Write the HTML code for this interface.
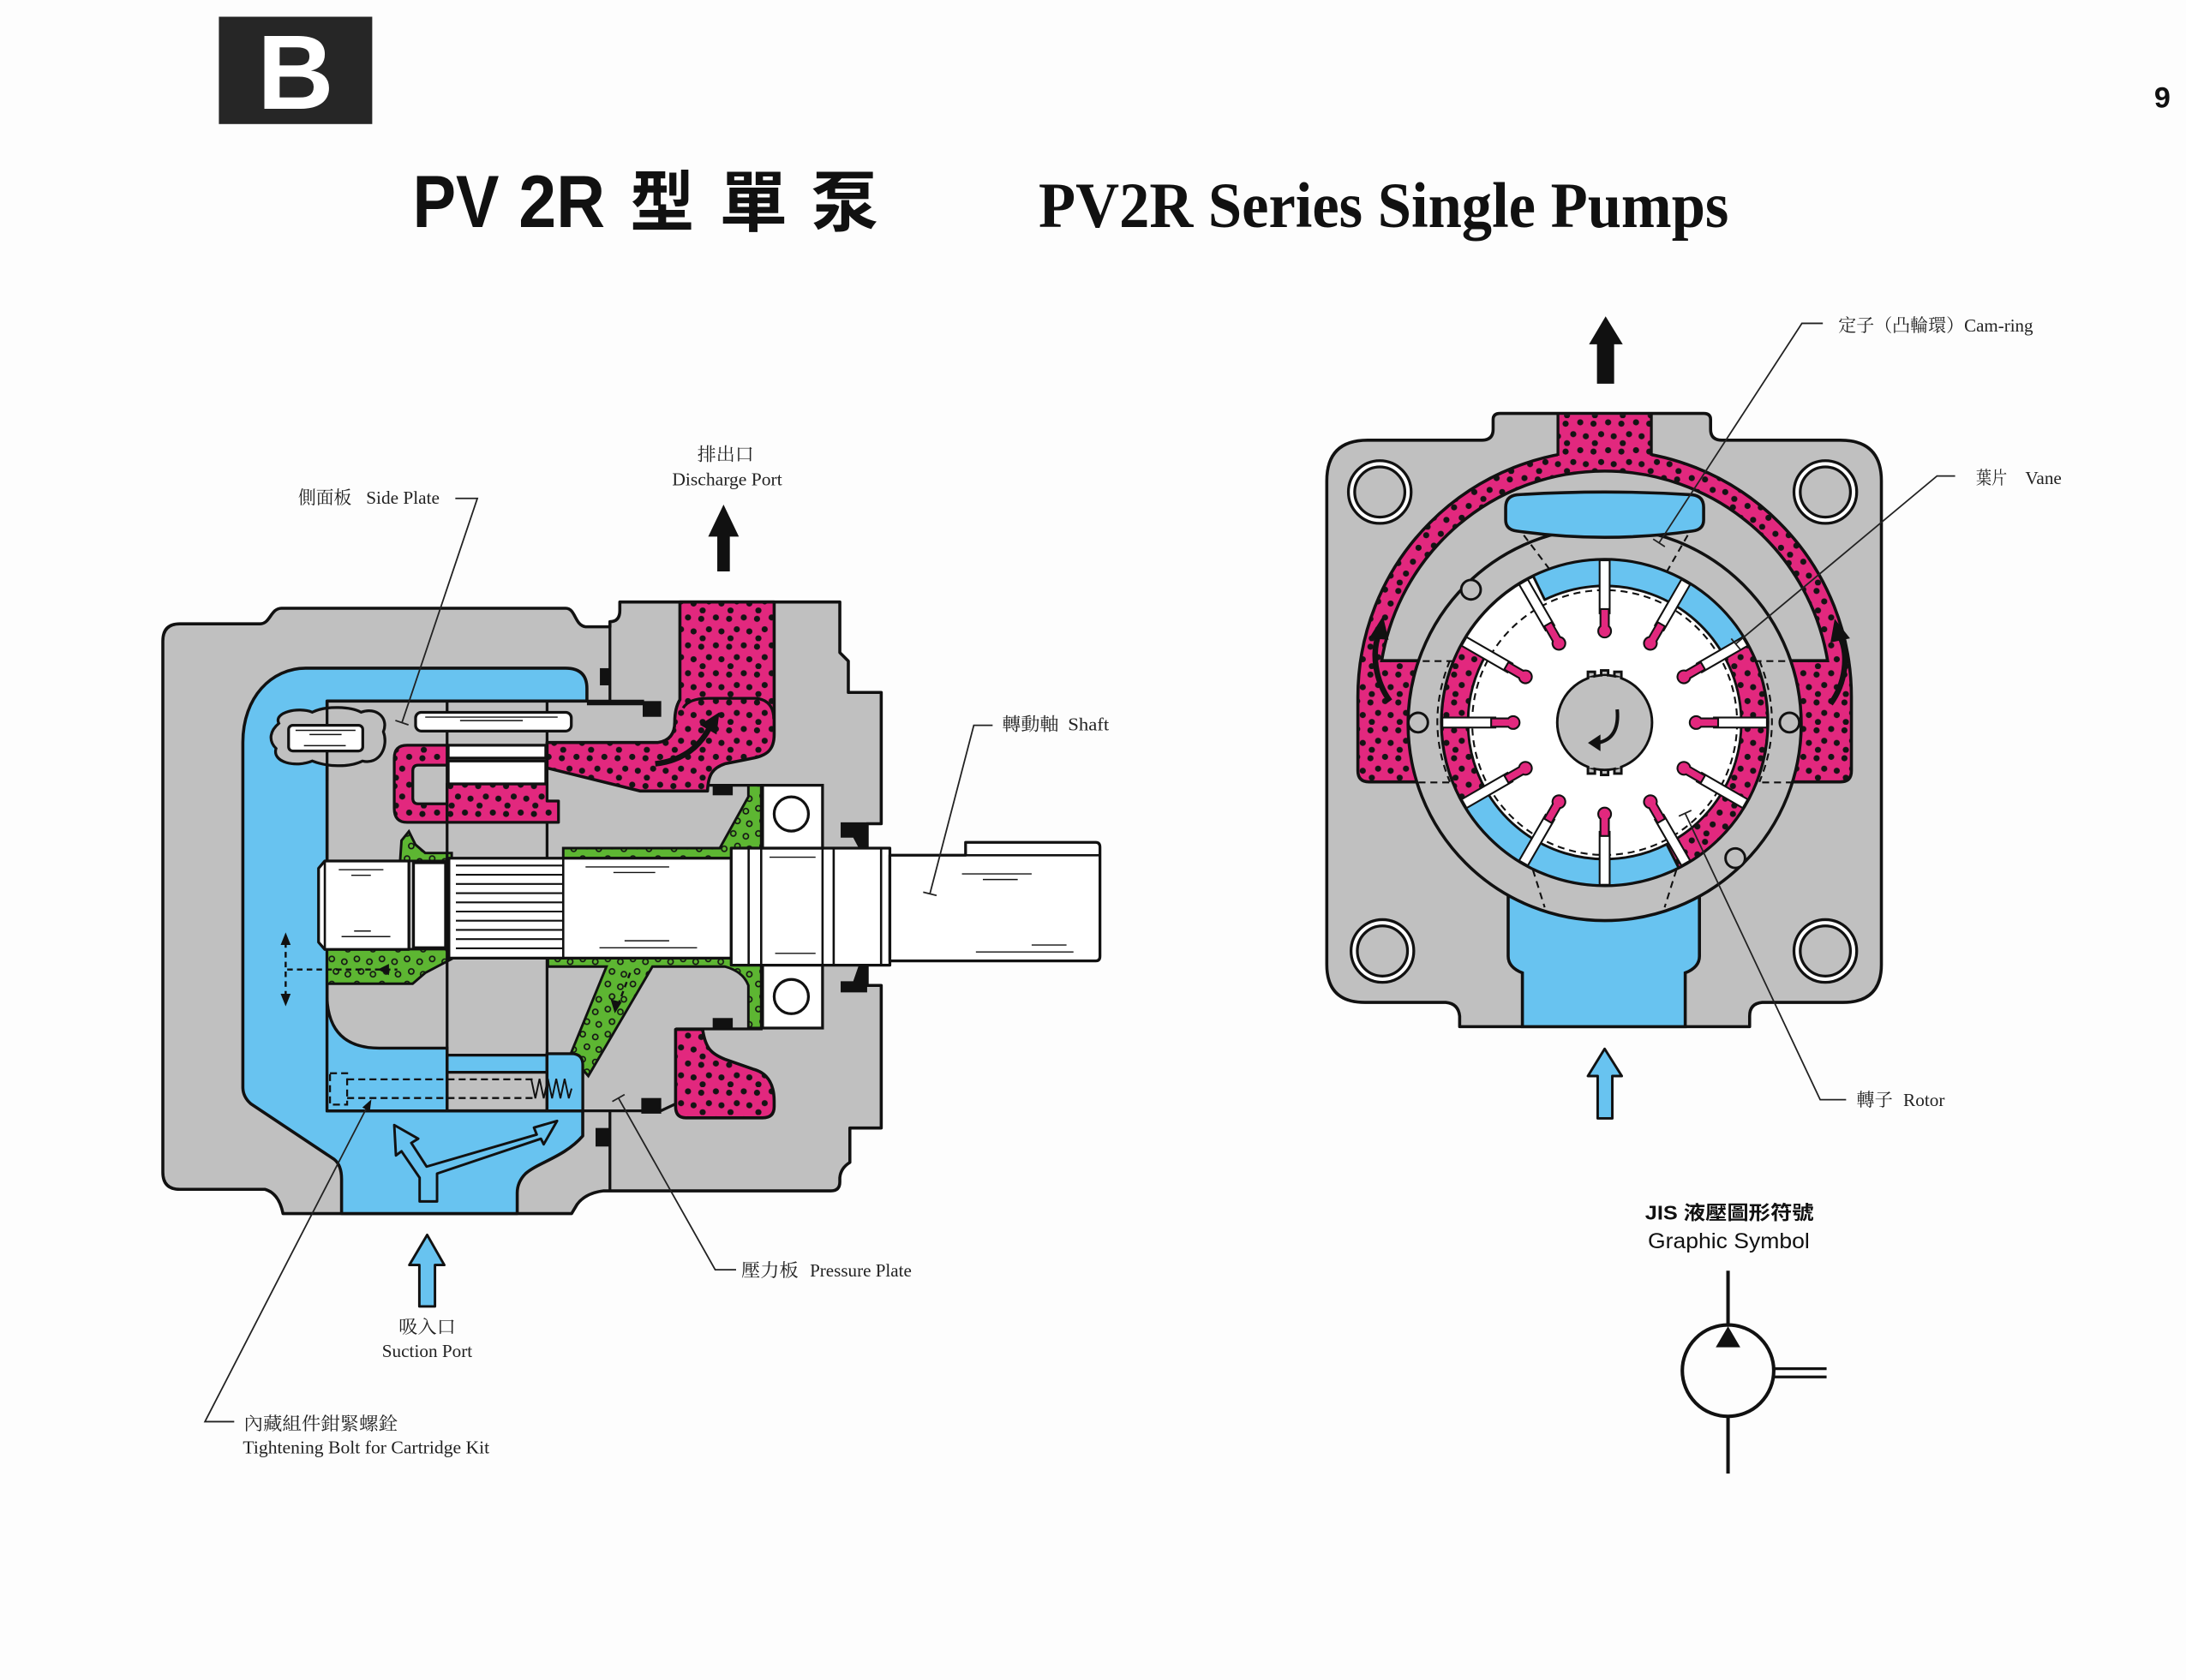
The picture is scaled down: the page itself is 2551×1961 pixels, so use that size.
<!DOCTYPE html>
<html><head><meta charset="utf-8"><style>
html,body{margin:0;padding:0;background:#fdfdfd;}
svg{display:block;}
.lb{font-family:"Liberation Serif","Noto Serif CJK SC",serif;font-size:13px;fill:#222;}
.ln{fill:none;stroke:#222;stroke-width:1.1;}
</style></head><body>
<svg xmlns="http://www.w3.org/2000/svg" xmlns:xlink="http://www.w3.org/1999/xlink" width="2551" height="1961" viewBox="0 0 1568 1205.35" preserveAspectRatio="none">
<defs>
<pattern id="pk" width="20" height="20" patternUnits="userSpaceOnUse">
<rect width="20" height="20" fill="#e2287e"/>
<g fill="#141414"><circle cx="3" cy="4" r="2.2"/><circle cx="13.5" cy="3" r="2.2"/><circle cx="8.5" cy="11.5" r="2.2"/><circle cx="17.5" cy="13" r="2.2"/><circle cx="4" cy="18" r="2.2"/></g>
</pattern>
<pattern id="gn" width="18" height="18" patternUnits="userSpaceOnUse">
<rect width="18" height="18" fill="#5db632"/>
<g fill="none" stroke="#141414" stroke-width="1"><circle cx="4" cy="4" r="1.9"/><circle cx="13" cy="6" r="1.9"/><circle cx="7" cy="13" r="1.9"/><circle cx="15.5" cy="15" r="1.9"/></g>
</pattern>
<g id="vane">
<rect x="1147.4" y="402" width="7.2" height="38" fill="#fff" stroke="#111" stroke-width="1.3"/>
<path d="M1148,437 L1148,449.3 A4.6 4.6 0 1 0 1154,449.3 L1154,437 Z" fill="#e2287e" stroke="#111" stroke-width="1.3"/>
</g>
</defs>

<rect x="0" y="0" width="1568" height="1205.35" fill="#fdfdfd"/>

<!-- Header -->
<rect x="157" y="12" width="110" height="77" fill="#262626"/>
<text x="212" y="78" text-anchor="middle" font-family="Liberation Sans, sans-serif" font-weight="bold" font-size="76" fill="#fff">B</text>
<text x="1551" y="77" text-anchor="middle" font-family="Liberation Sans, sans-serif" font-weight="bold" font-size="21" fill="#111">9</text>

<g font-family="Liberation Sans, sans-serif" font-size="53" font-weight="bold" fill="#111">
<text x="296" y="163" textLength="62" lengthAdjust="spacingAndGlyphs">PV</text>
<text x="372" y="163" textLength="62" lengthAdjust="spacingAndGlyphs">2R</text>
</g>
<g font-family="Noto Sans CJK TC, Noto Sans CJK SC, sans-serif" font-size="48" font-weight="bold" fill="#111">
<text x="452" y="162" textLength="46" lengthAdjust="spacingAndGlyphs">型</text>
<text x="516" y="162" textLength="49" lengthAdjust="spacingAndGlyphs">單</text>
<text x="582" y="162" textLength="48" lengthAdjust="spacingAndGlyphs">泵</text>
</g>
<text x="745" y="163" font-family="Liberation Serif, serif" font-weight="bold" font-size="46" fill="#111" textLength="495" lengthAdjust="spacingAndGlyphs">PV2R Series Single Pumps</text>

<!-- ================= LEFT DIAGRAM ================= -->
<g stroke="#111" stroke-width="2.2" stroke-linejoin="round">
<path d="M116.8,460 Q116.8,447.6 129,447.6 L186.5,447.6 C194,447.6 194,436.4 202,436.4 L405.7,436.4 C413,436.4 412,448.6 420,449.7 L437.5,449.7 L437.5,446 Q444.6,446 444.6,438 L444.6,431.9 L602.4,431.9 L602.4,468.2 L608.5,474.3 L608.5,496.8 L632.1,496.8 L632.1,591 L622,591 L622,707 L632.1,707 L632.1,809.3 L609.6,809.3 L609.6,834 Q603,838 602.4,845 L602.4,848 Q602.4,854.4 596,854.4 L433,854.4 Q420,856 414,864 L410,870.7 L203,870.7 Q200,856 190,853.3 L129,853.3 Q116.8,853.3 116.8,841 Z" fill="#c0c0c0"/>
<path d="M219.2,479.4 L405.7,479.4 Q421,479.4 421,494 L421,503 L234.6,503 L234.6,797 L418,797 L418,815 C405,830 386,834 377,842 Q371,848 371,856 L371,870.7 L245,870.7 L245,846 Q245,836 239.7,831.8 L180,792 Q174.2,787 174.2,780 L174.2,532.6 C174.2,500 195,479.4 219.2,479.4 Z" fill="#68c3f0"/>
</g>
<g stroke="#111" stroke-width="2" fill="none">
<line x1="437.5" y1="449.7" x2="437.5" y2="503"/>
<line x1="421" y1="503" x2="462" y2="503"/>
<line x1="437.5" y1="797" x2="437.5" y2="854.4"/>
<line x1="418" y1="797" x2="462" y2="797"/>
<line x1="474" y1="797" x2="484.6" y2="792"/>
<line x1="484.6" y1="738.2" x2="547" y2="738.2"/>
<line x1="507" y1="563.4" x2="547" y2="563.4"/>
</g>

<g stroke="#111" stroke-width="2" fill="#68c3f0">
<path d="M234.6,716 Q236,752 272,752 L320.7,752 L320.7,797 L234.6,797 Z"/>
<path d="M320.7,757 L392.4,757 L392.4,769.3 L320.7,769.3 Z"/>
<path d="M392.4,756 L410,756 Q418,756 418,764 L418,797 L392.4,797 Z"/>
</g>

<g stroke="#111" stroke-width="1.8" fill="url(#gn)">
<path d="M404,608.5 L516.3,608.5 L536.8,571.6 L536.8,563.4 L546,563.4 L546,615.7 L404,615.7 Z"/>
<path d="M393,687.4 L546,687.4 L546,737.6 L536.8,737.6 L536.8,707 Q533,697 520,693.5 L468,693.5 L422,772 L409,757 L435,693.5 L393,693.5 Z"/>
<path d="M287,617.7 L288,603 L293.3,596.5 L298,606 L305,612 L324,612 L324,617.7 Z"/>
<path d="M234.6,681 L324,681 L324,688 L305,698 L296,705.8 L234.6,705.8 Z"/>
</g>
<path d="M392.4,756 L410,756 Q418,756 418,764 L418,797 L392.4,797 Z" fill="#68c3f0" stroke="#111" stroke-width="2"/>

<g stroke="#111" stroke-width="2">
<line x1="320.7" y1="503" x2="320.7" y2="797"/>
<line x1="392.4" y1="503" x2="392.4" y2="797"/>
</g>

<path d="M487.7,431.9 L555.3,431.9 L555.3,527 C555.3,538 550,542 540,544 L520,548 C511,551 508,556 507.5,567.5 L459,567.5 L392.4,551 L392.4,532.7 L472,532.7 Q484,531 484,518 Q484,508 487.7,502 Z" fill="url(#pk)" stroke="#111" stroke-width="2.2" stroke-linejoin="round"/>
<path d="M490,508 Q494,501 508,501 L543,501 Q555,503 555,516" fill="none" stroke="#111" stroke-width="2"/>
<path d="M421,505 L472,505" stroke="#111" stroke-width="2"/>
<path d="M470,548 Q497,545 509,522" fill="none" stroke="#111" stroke-width="4"/>
<polygon points="516,511 502,520 514,527" fill="#111"/>

<g stroke="#111" stroke-width="2" stroke-linejoin="round">
<path d="M292,534.7 L320.7,534.7 L320.7,549 L300,549 Q296.1,549 296.1,553 L296.1,572.7 Q296.1,576.7 300,576.7 L320.7,576.7 L320.7,590 L292,590 Q282.8,590 282.8,580 L282.8,544 Q282.8,534.7 292,534.7 Z" fill="url(#pk)"/>
<path d="M320.7,562.4 L392.4,562.4 L392.4,574.7 L400.6,574.7 L400.6,590 L320.7,590 Z" fill="url(#pk)"/>
<rect x="321.5" y="534.7" width="70" height="9.2" fill="#fff"/>
<rect x="321.5" y="546" width="70" height="16.4" fill="#fff"/>
</g>
<path d="M484.6,738.6 L504,738.6 C506,752 510,756 520,760 L540,767 C552,770 555.3,780 555.3,790 L555.3,794 Q555.3,802 547,802 L492,802 Q484.6,802 484.6,794 Z" fill="url(#pk)" stroke="#111" stroke-width="2.2" stroke-linejoin="round"/>

<path d="M200,519 C196,511 214,507 224,511 C234,506 252,507 259,511 C270,507 279,515 275,525 C279,536 272,549 260,546 C250,551 234,550 224,546 C212,551 195,547 198,537 C192,531 194,524 200,519 Z" fill="#c0c0c0" stroke="#111" stroke-width="2"/>
<line x1="234.6" y1="503" x2="234.6" y2="560" stroke="#111" stroke-width="2"/>
<rect x="207" y="520.4" width="53.2" height="18.4" rx="3" fill="#fff" stroke="#111" stroke-width="2"/>
<g stroke="#111" stroke-width="0.9"><line x1="212" y1="524" x2="255" y2="524"/><line x1="222" y1="527" x2="245" y2="527"/><line x1="218" y1="535" x2="248" y2="535"/></g>
<rect x="298.1" y="511.1" width="111.7" height="13.4" rx="4" fill="#fff" stroke="#111" stroke-width="2"/>
<g stroke="#111" stroke-width="0.9"><line x1="305" y1="514.5" x2="400" y2="514.5"/><line x1="330" y1="517" x2="375" y2="517"/></g>

<g stroke="#111" stroke-width="2" fill="#fff" stroke-linejoin="round">
<path d="M233,617.7 L293.3,617.7 L293.3,681.2 L233,681.2 L228.5,676 L228.5,623 Z"/>
<rect x="296.6" y="619" width="23" height="61"/>
<rect x="322" y="615.7" width="202.5" height="71.7"/>
<rect x="524.5" y="608.5" width="113.8" height="84"/>
<path d="M638.3,613.6 L692.6,613.6 L692.6,604.4 L786,604.4 Q789,604.4 789,608 L789,686 Q789,689.4 786,689.4 L638.3,689.4 Z"/>
</g>
<g stroke="#111" stroke-width="1.6" fill="none">
<line x1="692.6" y1="613.6" x2="789" y2="613.6"/>
<line x1="537" y1="608.5" x2="537" y2="692.5"/><line x1="546" y1="608.5" x2="546" y2="692.5"/>
<line x1="590" y1="608.5" x2="590" y2="692.5"/><line x1="598" y1="608.5" x2="598" y2="692.5"/>
<line x1="632" y1="608.5" x2="632" y2="692.5"/>
<line x1="233" y1="617.7" x2="233" y2="681.2"/>
<line x1="404" y1="615.7" x2="404" y2="687.4"/>
</g>
<g stroke="#111" stroke-width="1.3">
<line x1="327" y1="621" x2="404" y2="621"/><line x1="327" y1="627.6" x2="404" y2="627.6"/><line x1="327" y1="634.2" x2="404" y2="634.2"/><line x1="327" y1="640.8" x2="404" y2="640.8"/><line x1="327" y1="647.4" x2="404" y2="647.4"/><line x1="327" y1="654" x2="404" y2="654"/><line x1="327" y1="660.6" x2="404" y2="660.6"/><line x1="327" y1="667.2" x2="404" y2="667.2"/><line x1="327" y1="673.8" x2="404" y2="673.8"/><line x1="327" y1="680.4" x2="404" y2="680.4"/>
</g>
<g stroke="#111" stroke-width="0.9">
<line x1="243" y1="624" x2="275" y2="624"/><line x1="252" y1="628" x2="266" y2="628"/><line x1="245" y1="672" x2="280" y2="672"/><line x1="254" y1="668" x2="266" y2="668"/>
<line x1="420" y1="622" x2="480" y2="622"/><line x1="440" y1="626" x2="470" y2="626"/><line x1="430" y1="680" x2="500" y2="680"/><line x1="448" y1="675" x2="480" y2="675"/>
<line x1="552" y1="615" x2="585" y2="615"/><line x1="556" y1="684" x2="585" y2="684"/>
<line x1="690" y1="627" x2="740" y2="627"/><line x1="705" y1="631" x2="730" y2="631"/><line x1="700" y1="683" x2="770" y2="683"/><line x1="740" y1="678" x2="765" y2="678"/>
</g>

<g stroke="#111" stroke-width="2">
<rect x="547" y="563.4" width="43" height="45.1" fill="#fff"/>
<circle cx="567.6" cy="584" r="12.3" fill="#fff"/>
<rect x="547" y="692.5" width="43" height="45.1" fill="#fff"/>
<circle cx="567.6" cy="715" r="12.3" fill="#fff"/>
</g>
<g fill="#111">
<rect x="430.3" y="479.4" width="7.2" height="12.3"/>
<rect x="461" y="503" width="13.3" height="11.3"/>
<rect x="511.2" y="563.4" width="14.4" height="7.2"/>
<rect x="511.2" y="730.4" width="14.4" height="7.2"/>
<rect x="460" y="787.8" width="14.3" height="11.2"/>
<rect x="427.2" y="809.3" width="10.3" height="13.3"/>
<path d="M603,590 L622,590 L622,608.5 L616,608.5 L612,601 L603,601 Z"/>
<path d="M603,704 L612,704 L616,692.5 L622,692.5 L622,712 L603,712 Z"/>
</g>

<g stroke="#111" stroke-width="1.4" fill="none" stroke-dasharray="5 3">
<rect x="236.7" y="770" width="12.3" height="22.5"/>
<line x1="249" y1="774.4" x2="383" y2="774.4"/>
<line x1="249" y1="787.8" x2="383" y2="787.8"/>
</g>
<path d="M381,774 L384,788 L387,774 L390,788 L393,774 L396,788 L399,774 L402,788 L405,774 L408,788 L410,781" fill="none" stroke="#111" stroke-width="1.2"/>

<path d="M301,862 L301,845 L288,826 L284,829 L282.8,807.2 L300,817 L295,820 L306,837 L385,814 L383,809 L399.6,804.2 L390,821 L388,817 L313.5,842 L313.5,862 Z" fill="#68c3f0" stroke="#111" stroke-width="1.8" stroke-linejoin="round"/>

<g stroke="#111" stroke-width="1.5" fill="none" stroke-dasharray="4 3">
<line x1="204.9" y1="676" x2="204.9" y2="716"/>
<line x1="206" y1="695.6" x2="285" y2="695.6"/>
<line x1="452" y1="698" x2="443" y2="722"/>
</g>
<g fill="#111">
<polygon points="204.9,669 201.3,678 208.5,678"/>
<polygon points="204.9,722 201.3,713 208.5,713"/>
<polygon points="271,695.6 279,691.6 279,699.6"/>
<polygon points="441,727 438,717 446,719"/>
</g>

<polygon points="519,362 508,385 514.5,385 514.5,410 523.5,410 523.5,385 530,385" fill="#111"/>
<polygon points="306.4,886 293.6,907.6 300.8,907.6 300.8,937.3 312,937.3 312,907.6 318.7,907.6" fill="#68c3f0" stroke="#111" stroke-width="1.8" stroke-linejoin="round"/>

<g class="ln">
<polyline points="326.6,357.6 342.4,357.6 288.3,518.5"/>
<line x1="283.6" y1="516.9" x2="293" y2="520.1"/>
<polyline points="712,520.4 698.5,520.4 667,641.3"/>
<line x1="662.2" y1="640.1" x2="671.8" y2="642.5"/>
<polyline points="528,911 513,911 443.6,787.8"/>
<line x1="439.2" y1="790.3" x2="448" y2="785.3"/>
<polyline points="168,1020 147,1020 265,791"/>
</g>
<polygon points="266.4,788.8 265.3,797.4 259.9,794.6" fill="#111"/>

<text class="lb" x="213.9" y="361.3" textLength="38.3" lengthAdjust="spacingAndGlyphs">側面板</text>
<text class="lb" x="262.6" y="361.3" textLength="52.7" lengthAdjust="spacingAndGlyphs">Side Plate</text>
<text class="lb" x="500.2" y="330.4" textLength="40.6" lengthAdjust="spacingAndGlyphs">排出口</text>
<text class="lb" x="482.1" y="348.3" textLength="78.9" lengthAdjust="spacingAndGlyphs">Discharge Port</text>
<text class="lb" x="718.8" y="524" textLength="40.6" lengthAdjust="spacingAndGlyphs">轉動軸</text>
<text class="lb" x="766" y="524" textLength="29.5" lengthAdjust="spacingAndGlyphs">Shaft</text>
<text class="lb" x="531.7" y="915.8" textLength="41" lengthAdjust="spacingAndGlyphs">壓力板</text>
<text class="lb" x="580.9" y="915.8" textLength="73" lengthAdjust="spacingAndGlyphs">Pressure Plate</text>
<text class="lb" x="285.9" y="956.4" textLength="41" lengthAdjust="spacingAndGlyphs">吸入口</text>
<text class="lb" x="274" y="973.6" textLength="64.8" lengthAdjust="spacingAndGlyphs">Suction Port</text>
<text class="lb" x="174.9" y="1026" textLength="110.3" lengthAdjust="spacingAndGlyphs">內藏組件鉗緊螺銓</text>
<text class="lb" x="174.2" y="1042.9" textLength="176.9" lengthAdjust="spacingAndGlyphs">Tightening Bolt for Cartridge Kit</text>

<!-- ================= RIGHT DIAGRAM ================= -->
<polygon points="1151.7,227 1139.8,247 1145.5,247 1145.5,275.3 1157.8,275.3 1157.8,247 1164,247" fill="#111"/>
<polygon points="1151,752.5 1139,772 1146,772 1146,802.4 1156.5,802.4 1156.5,772 1163.3,772" fill="#68c3f0" stroke="#111" stroke-width="1.8" stroke-linejoin="round"/>

<path d="M981,315.8 L1063,315.8 Q1071,315.8 1071,308 L1071,301 Q1071,296.6 1076,296.6 L1222,296.6 Q1227,296.6 1227,301 L1227,308 Q1227,315.8 1235,315.8 L1320,315.8 Q1349.5,315.8 1349.5,345 L1349.5,692 Q1349.5,719.2 1322,719.2 L1264,719.2 Q1255,720 1255,729 L1255,736.6 L1047,736.6 L1047,729 Q1046,720 1037,719.2 L979,719.2 Q951.7,719.2 951.7,692 L951.7,345 Q951.7,315.8 981,315.8 Z" fill="#c0c0c0" stroke="#111" stroke-width="2.2" stroke-linejoin="round"/>

<g stroke="#111" stroke-width="2">
<circle cx="989.7" cy="353" r="22.5" fill="#fff"/><circle cx="989.7" cy="353" r="18" fill="#c0c0c0"/>
<circle cx="1309.3" cy="353" r="22.5" fill="#fff"/><circle cx="1309.3" cy="353" r="18" fill="#c0c0c0"/>
<circle cx="991.6" cy="682.3" r="22.5" fill="#fff"/><circle cx="991.6" cy="682.3" r="18" fill="#c0c0c0"/>
<circle cx="1309.3" cy="682.3" r="22.5" fill="#fff"/><circle cx="1309.3" cy="682.3" r="18" fill="#c0c0c0"/>
</g>

<path d="M974,500 A177 177 0 0 1 1328,500 L1328,553 Q1328,561 1320,561 L982,561 Q974,561 974,553 Z" fill="url(#pk)" stroke="#111" stroke-width="2.2"/>
<rect x="1117.5" y="297.7" width="67" height="34" fill="url(#pk)"/>
<g stroke="#111" stroke-width="2"><line x1="1117.5" y1="296.6" x2="1117.5" y2="327"/><line x1="1184.5" y1="296.6" x2="1184.5" y2="327"/></g>

<path d="M991.1,474 A162 162 0 0 1 1310.9,474 Z" fill="#c0c0c0" stroke="#111" stroke-width="2.2"/>

<path d="M1083.8,640 L1219,640 L1219,686 Q1219,694 1208.8,698 L1208.8,736.6 L1092,736.6 L1092,698 Q1081.8,694 1081.8,686 L1081.8,640 Z" fill="#68c3f0" stroke="#111" stroke-width="2.2"/>

<circle cx="1151" cy="519.5" r="141" fill="#c0c0c0" stroke="#111" stroke-width="2.2"/>

<path d="M1088,355 Q1151,351 1214,355 Q1222,356 1222,364 L1222,373 Q1222,380 1214,381 Q1151,390 1088,381 Q1080,380 1080,373 L1080,364 Q1080,356 1088,355 Z" fill="#68c3f0" stroke="#111" stroke-width="2.2"/>

<g stroke="#111" stroke-width="1.3" fill="none" stroke-dasharray="5 3.5">
<line x1="1012" y1="474.3" x2="1292" y2="474.3"/>
<line x1="1009" y1="561.4" x2="1294" y2="561.4"/>
<path d="M1040,474 Q1022,518 1040,561"/>
<path d="M1262,474 Q1280,518 1262,561"/>
<line x1="1093" y1="384" x2="1117.5" y2="416.4"/>
<line x1="1210.6" y1="384" x2="1192" y2="416.4"/>
<line x1="1097" y1="616" x2="1108" y2="651"/>
<line x1="1205" y1="616" x2="1194" y2="651"/>
</g>

<g fill="#c0c0c0" stroke="#111" stroke-width="1.8">
<circle cx="1055.1" cy="423.1" r="7"/>
<circle cx="1017.2" cy="518.4" r="7"/>
<circle cx="1283.6" cy="518.4" r="7"/>
<circle cx="1244.7" cy="615.7" r="7"/>
</g>

<circle cx="1151" cy="518.4" r="117" fill="#fff" stroke="#111" stroke-width="2.2"/>
<g stroke="#111" stroke-width="1.8" stroke-linejoin="round">
<path d="M1099.7,413.2 A117 117 0 0 1 1252.3,459.9 L1235.9,469.4 A98 98 0 0 0 1108,430.3 Z" fill="#68c3f0"/>
<path d="M1252.3,459.9 A117 117 0 0 1 1204.1,622.6 L1195.5,605.7 A98 98 0 0 0 1235.9,469.4 Z" fill="url(#pk)"/>
<path d="M1204.1,622.6 A117 117 0 0 1 1048.7,575.1 L1065.3,565.9 A98 98 0 0 0 1195.5,605.7 Z" fill="#68c3f0"/>
<path d="M1048.7,575.1 A117 117 0 0 1 1049.7,459.9 L1066.1,469.4 A98 98 0 0 0 1065.3,565.9 Z" fill="url(#pk)"/>
</g>
<circle cx="1151" cy="518.4" r="95" fill="none" stroke="#111" stroke-width="1.3" stroke-dasharray="5 3.5"/>

<use xlink:href="#vane" href="#vane"/>
<use xlink:href="#vane" href="#vane" transform="rotate(30 1151 518.4)"/>
<use xlink:href="#vane" href="#vane" transform="rotate(60 1151 518.4)"/>
<use xlink:href="#vane" href="#vane" transform="rotate(90 1151 518.4)"/>
<use xlink:href="#vane" href="#vane" transform="rotate(120 1151 518.4)"/>
<use xlink:href="#vane" href="#vane" transform="rotate(150 1151 518.4)"/>
<use xlink:href="#vane" href="#vane" transform="rotate(180 1151 518.4)"/>
<use xlink:href="#vane" href="#vane" transform="rotate(210 1151 518.4)"/>
<use xlink:href="#vane" href="#vane" transform="rotate(240 1151 518.4)"/>
<use xlink:href="#vane" href="#vane" transform="rotate(270 1151 518.4)"/>
<use xlink:href="#vane" href="#vane" transform="rotate(300 1151 518.4)"/>
<use xlink:href="#vane" href="#vane" transform="rotate(330 1151 518.4)"/>

<g stroke="#111" stroke-width="1.8" fill="#c0c0c0">
<rect x="1139" y="482" width="5" height="6"/><rect x="1148.5" y="481" width="5" height="6"/><rect x="1158" y="482" width="5" height="6"/>
<rect x="1139" y="549" width="5" height="6"/><rect x="1148.5" y="550" width="5" height="6"/><rect x="1158" y="549" width="5" height="6"/>
<circle cx="1151" cy="518.4" r="34"/>
</g>
<g stroke="none" fill="#c0c0c0">
<rect x="1140" y="486" width="3" height="4"/><rect x="1149.5" y="485" width="3" height="4"/><rect x="1159" y="486" width="3" height="4"/>
<rect x="1140" y="547" width="3" height="4"/><rect x="1149.5" y="547" width="3" height="4"/><rect x="1159" y="547" width="3" height="4"/>
</g>
<path d="M1160,509 Q1162,530 1146,533" fill="none" stroke="#111" stroke-width="2.5"/>
<polygon points="1139,533 1148,527 1148,539" fill="#111"/>

<path d="M997,503 C986,488 984,468 989,455" fill="none" stroke="#111" stroke-width="4"/>
<polygon points="992,442 982,458 996,459" fill="#111"/>
<path d="M1313,505 C1324,490 1326,470 1320,457" fill="none" stroke="#111" stroke-width="4"/>
<polygon points="1316,444 1313,461 1327,458" fill="#111"/>

<g class="ln">
<polyline points="1307.5,232 1292.5,232 1190,389.5"/>
<line x1="1185.8" y1="386.8" x2="1194.2" y2="392.2"/>
<polyline points="1402.4,341.5 1389.4,341.5 1245,462"/>
<line x1="1241.8" y1="458.2" x2="1248.2" y2="465.8"/>
<polyline points="1324.2,789 1305.6,789 1208.7,583.5"/>
<line x1="1204.2" y1="585.6" x2="1213.2" y2="581.4"/>
</g>
<text class="lb" x="1318.6" y="237.8" textLength="139.7" lengthAdjust="spacingAndGlyphs">定子（凸輪環）Cam-ring</text>
<text class="lb" x="1417.3" y="347.3" textLength="22.4" lengthAdjust="spacingAndGlyphs">葉片</text>
<text class="lb" x="1452.7" y="347.3" textLength="26.1" lengthAdjust="spacingAndGlyphs">Vane</text>
<text class="lb" x="1331.6" y="793.6" textLength="26.1" lengthAdjust="spacingAndGlyphs">轉子</text>
<text class="lb" x="1365.2" y="793.6" textLength="29.8" lengthAdjust="spacingAndGlyphs">Rotor</text>

<text x="1180" y="875" font-family="Liberation Sans, Noto Sans CJK TC, Noto Sans CJK SC, sans-serif" font-weight="bold" font-size="14" fill="#111" textLength="121" lengthAdjust="spacingAndGlyphs">JIS 液壓圖形符號</text>
<text x="1182" y="895.7" font-family="Liberation Sans, sans-serif" font-size="15.5" fill="#111" textLength="116" lengthAdjust="spacingAndGlyphs">Graphic Symbol</text>
<g stroke="#111" stroke-width="2.5" fill="none">
<circle cx="1239.5" cy="983.4" r="32.8"/>
<line x1="1239.5" y1="911.7" x2="1239.5" y2="950.6"/>
<line x1="1239.5" y1="1016.2" x2="1239.5" y2="1057.2"/>
</g>
<g stroke="#111" stroke-width="2">
<line x1="1271.3" y1="982" x2="1310.2" y2="982"/>
<line x1="1271.3" y1="987.9" x2="1310.2" y2="987.9"/>
</g>
<polygon points="1239.5,951.6 1230.7,966.6 1248.3,966.6" fill="#111"/>
</svg>
</body></html>
